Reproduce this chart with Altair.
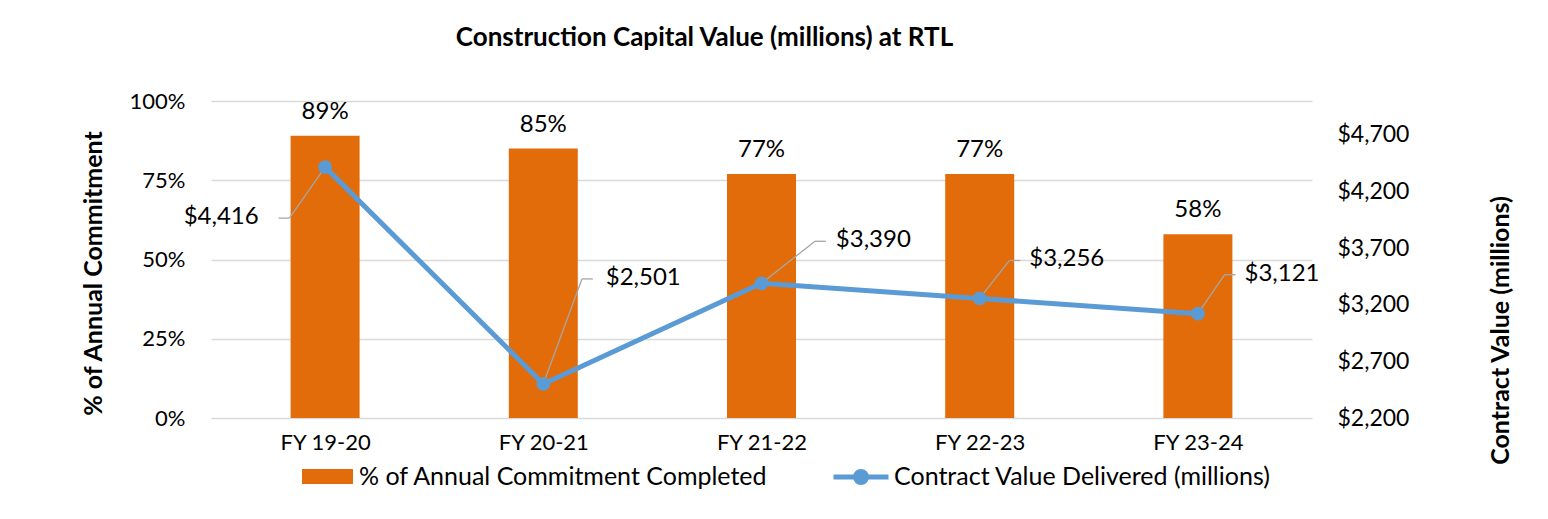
import altair as alt
import pandas as pd

# ---- data ----
categories = ["FY 19-20", "FY 20-21", "FY 21-22", "FY 22-23", "FY 23-24"]
pct_completed = [0.89, 0.85, 0.77, 0.77, 0.58]
contract_value = [4416, 2501, 3390, 3256, 3121]
bar_series_name = "% of Annual Commitment Completed"
line_series_name = "Contract Value Delivered (millions)"

# ---- layout / style (pixel offsets of the data-label leader lines) ----
knee_dx = [-36, 39, 54, 30, 27]
knee_dy = [51, -105, -42, -38, -39]
arm_dx = [-11, 11, 11, 11, 11]
label_gap = [-20, 13, 10, 9, 9]

W, H = 1101, 317
X_DOMAIN = [-0.5, len(categories) - 0.5]
Y2_DOMAIN = [2200, 5000]
px_x = (X_DOMAIN[1] - X_DOMAIN[0]) / W
px_y = (Y2_DOMAIN[1] - Y2_DOMAIN[0]) / H

ORANGE = "#E36C0A"
BLUE = "#5B9BD5"
GREY = "#A6A6A6"
GRID = "#D9D9D9"
FONT = "Lato"
TXT = "#000000"

df = pd.DataFrame({
    "fy": categories,
    "idx": list(range(len(categories))),
    "pct": pct_completed,
    "value": contract_value,
    "bar_series": bar_series_name,
    "line_series": line_series_name,
    "kdx": knee_dx,
    "kdy": knee_dy,
    "adx": arm_dx,
    "gap": label_gap,
})

base = alt.Chart(df).transform_calculate(
    knee_x=f"datum.idx + datum.kdx * {px_x}",
    knee_y=f"datum.value - datum.kdy * {px_y}",
    end_x=f"datum.idx + (datum.kdx + datum.adx) * {px_x}",
    label_x=f"datum.idx + (datum.kdx + datum.adx + datum.gap) * {px_x}",
    label_y=f"datum.value - (datum.kdy - 1) * {px_y}",
    side="datum.kdx < 0 ? 'L' : 'R'",
)

label_expr = "[" + ",".join(f"'{c}'" for c in categories) + "][datum.value]"
x_scale = alt.Scale(domain=X_DOMAIN, nice=False, zero=False)
x_axis = alt.Axis(
    values=list(range(len(categories))), labelExpr=label_expr, title=None,
    grid=False, ticks=False, domain=False, labelPadding=24,
    labelBaseline="middle", labelFontSize=22, labelFont=FONT, labelColor=TXT,
)


def X(field):
    return alt.X(field, type="quantitative", scale=x_scale, axis=x_axis)


y_left_axis = alt.Axis(
    values=[0, 0.25, 0.5, 0.75, 1.0], format=".0%", title="% of Annual Commitment",
    grid=True, gridColor=GRID, gridWidth=1.5, ticks=False, domain=False,
    labelPadding=26, labelFontSize=22, labelFont=FONT, labelColor=TXT,
    titleFont=FONT, titleFontSize=25, titleFontWeight="bold", titleColor=TXT,
    titleAngle=270, titleX=-118, titleY=172, titleAlign="center", titleBaseline="middle",
)
y_left_scale = alt.Scale(domain=[0, 1], nice=False)

y_right_axis = alt.Axis(
    values=[2200, 2700, 3200, 3700, 4200, 4700], format="$,.0f",
    title="Contract Value (millions)", orient="right",
    grid=False, ticks=False, domain=False,
    labelPadding=25, labelFontSize=23, labelFont=FONT, labelColor=TXT,
    titleFont=FONT, titleFontSize=25, titleFontWeight="bold", titleColor=TXT,
    titleAngle=270, titleX=188, titleY=229, titleAlign="center", titleBaseline="middle",
)
y_right_scale = alt.Scale(domain=Y2_DOMAIN, nice=False, zero=False)


def YL(field):
    return alt.Y(field, type="quantitative", scale=y_left_scale, axis=y_left_axis)


def YR(field):
    return alt.Y(field, type="quantitative", scale=y_right_scale, axis=y_right_axis)


bar_legend = alt.Legend(
    orient="none", legendX=91, legendY=350, title=None, padding=0,
    symbolType="M-1,-0.294H1V0.294H-1Z", symbolSize=2601, symbolStrokeWidth=0,
    symbolFillColor=ORANGE, labelOffset=6, labelFontSize=25, labelFont=FONT, labelColor=TXT,
    labelLimit=0,
)
line_legend = alt.Legend(
    orient="none", legendX=620, legendY=346, title=None, padding=0,
    symbolType="M-1,0H1M0.2,0A0.2,0.2,0,1,1,-0.2,0A0.2,0.2,0,1,1,0.2,0Z",
    symbolSize=3025, symbolStrokeWidth=5, symbolFillColor=BLUE, symbolStrokeColor=BLUE,
    labelOffset=3, labelFontSize=25, labelFont=FONT, labelColor=TXT, labelLimit=0,
)

bars = base.mark_bar(size=69).encode(
    x=X("idx"),
    y=YL("pct"),
    color=alt.Color("bar_series:N", scale=alt.Scale(domain=[bar_series_name], range=[ORANGE]),
                    legend=bar_legend),
)
bar_labels = base.mark_text(baseline="alphabetic", dy=-17, fontSize=24, font=FONT, color=TXT).encode(
    x=X("idx"),
    y=YL("pct"),
    text=alt.Text("pct:Q", format=".0%"),
)

left_group = alt.layer(bars, bar_labels)

line = base.mark_line(strokeWidth=5).encode(
    x=X("idx"),
    y=YR("value"),
    color=alt.Color("line_series:N", scale=alt.Scale(domain=[line_series_name], range=[BLUE]),
                    legend=line_legend),
)
leader1 = base.mark_rule(color=GREY, strokeWidth=1.3).encode(
    x=X("idx"),
    y=YR("value"),
    x2="knee_x:Q",
    y2="knee_y:Q",
)
leader2 = base.mark_rule(color=GREY, strokeWidth=1.3).encode(
    x=X("knee_x"),
    y=YR("knee_y"),
    x2="end_x:Q",
)
points = base.mark_point(filled=True, size=190, opacity=1, color=BLUE).encode(
    x=X("idx"),
    y=YR("value"),
)
labels_left = base.transform_filter("datum.side == 'L'").mark_text(
    align="right", baseline="middle", fontSize=24, font=FONT, color=TXT
).encode(
    x=X("label_x"),
    y=YR("label_y"),
    text=alt.Text("value:Q", format="$,.0f"),
)
labels_right = base.transform_filter("datum.side == 'R'").mark_text(
    align="left", baseline="middle", fontSize=24, font=FONT, color=TXT
).encode(
    x=X("label_x"),
    y=YR("label_y"),
    text=alt.Text("value:Q", format="$,.0f"),
)

right_group = alt.layer(line, leader1, leader2, points, labels_left, labels_right)

chart = alt.layer(left_group, right_group).resolve_scale(
    y="independent", color="independent"
).properties(
    width=W, height=H,
    background="white",
    autosize=alt.AutoSizeParams(type="none"),
    padding={"left": 203, "top": 93, "right": 220, "bottom": 93},
    title=alt.TitleParams(
        "Construction Capital Value (millions) at RTL", anchor="middle", frame="group",
        dx=-57, offset=39, font=FONT, fontSize=26, fontWeight="bold", color=TXT,
    ),
).configure_view(strokeWidth=0, stroke="transparent")

chart.save("out.html", embed_options={"renderer": "svg", "actions": False})
